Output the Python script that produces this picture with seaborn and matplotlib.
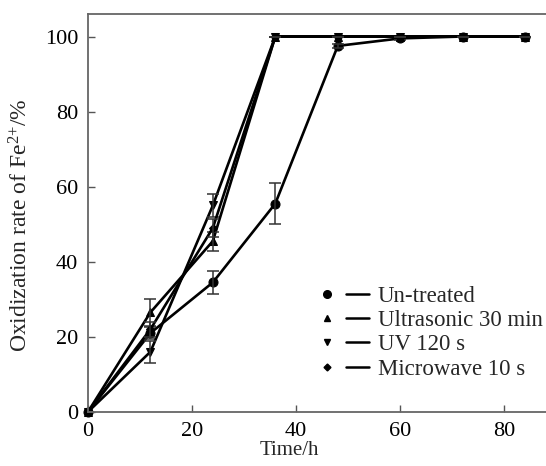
import numpy as np
import pandas as pd
import matplotlib
matplotlib.use("Agg")
import matplotlib.pyplot as plt
import seaborn as sns
from matplotlib.lines import Line2D
from matplotlib.legend_handler import HandlerTuple

# data
time_h = [0, 12, 24, 36, 48, 60, 72, 84]
untreated = [0, 21, 34.5, 55.5, 97.5, 99.5, 100, 100]
ultrasonic = [0, 26.5, 45.5, 100, 100, 100, 100, 100]
uv = [0, 16, 55, 100, 100, 100, 100, 100]
microwave = [0, 22, 49, 100, 100, 100, 100, 100]

err_untreated = [0, 1.5, 3, 5.5, 0.5, 0.5, 0, 0]
err_ultrasonic = [0, 3.5, 2.5, 0, 0, 0, 0, 0]
err_uv = [0, 3, 3, 0, 0, 0, 0, 0]
err_microwave = [0, 2, 2.5, 0, 0, 0, 0, 0]

labels = ["Un-treated", "Ultrasonic 30 min", "UV 120 s", "Microwave 10 s"]
markers = ["o", "^", "v", "D"]
msizes = [6.5, 6, 6, 4.5]
series = [untreated, ultrasonic, uv, microwave]
errors = [err_untreated, err_ultrasonic, err_uv, err_microwave]

sns.set_theme(style="ticks")
plt.rcParams['font.family'] = ['Liberation Serif', 'DejaVu Serif']
plt.rcParams['mathtext.fontset'] = 'custom'
plt.rcParams['mathtext.rm'] = 'Liberation Serif'
plt.rcParams['mathtext.it'] = 'Liberation Serif'

fig = plt.figure(figsize=(5.46, 4.66), dpi=100)
ax = fig.add_axes([0.161, 0.116, 0.839, 0.854])

df = pd.DataFrame({"Time": time_h * 4,
                   "Rate": sum(series, []),
                   "Group": sum([[l] * len(time_h) for l in labels], [])})

for lab, mk, ms, yv, ev in zip(labels, markers, msizes, series, errors):
    sub = df[df["Group"] == lab]
    sns.lineplot(data=sub, x="Time", y="Rate", ax=ax, color="black", lw=1.9,
                 marker=mk, markersize=ms, markeredgecolor="black", clip_on=False,
                 legend=False)
    ax.errorbar(time_h, yv, yerr=ev, fmt="none", ecolor="#333333", elinewidth=1.1,
                capsize=4, capthick=1.1)

ax.set_xlim(0, 88)
ax.set_ylim(0, 106)
ax.set_xticks([0, 20, 40, 60, 80])
ax.set_yticks([0, 20, 40, 60, 80, 100])
ax.tick_params(direction="in", length=5, width=1, colors="#555555", labelcolor="black",
               labelsize=16, pad=7)
for s in ["left", "bottom", "top"]:
    ax.spines[s].set_color("#666666")
    ax.spines[s].set_linewidth(1.3)
ax.spines["right"].set_visible(False)

ax.set_xlabel("Time/h", fontsize=15)
ax.xaxis.set_label_coords(0.44, -0.072)
ax.set_ylabel("Oxidization rate of Fe$^{2{+}}$/%", fontsize=17)
ax.yaxis.set_label_coords(-0.12, 0.47)

handles = []
for mk, ms in zip(markers, msizes):
    m = Line2D([], [], marker=mk, color="black", ls="none", markersize=ms - 1)
    l = Line2D([], [], color="black", lw=1.8)
    handles.append((m, l))
ax.legend(handles, labels, handler_map={tuple: HandlerTuple(ndivide=None, pad=0.3)},
          loc="upper left", bbox_to_anchor=(0.478, 0.34), frameon=False,
          fontsize=16.5, handlelength=2.3, handletextpad=0.4, labelspacing=0.14,
          borderaxespad=0)

fig.savefig("out.png", dpi=100)
